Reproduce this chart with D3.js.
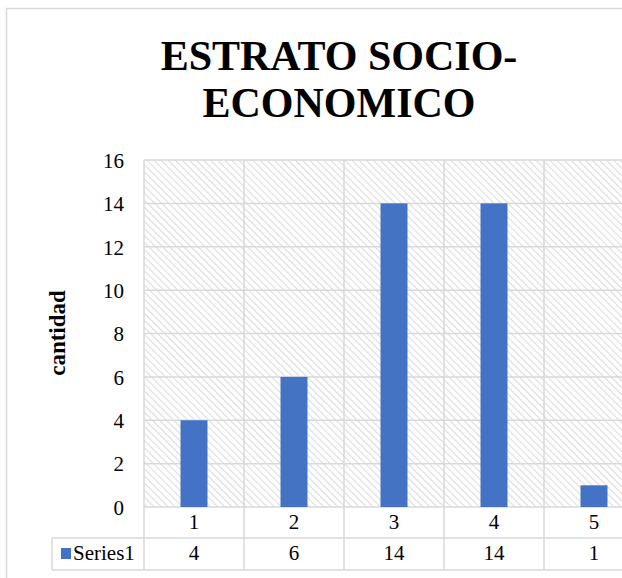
<!DOCTYPE html>
<html>
<head>
<meta charset="utf-8">
<script src="https://cdn.jsdelivr.net/npm/d3@7"></script>
</head>
<body style="margin:0">
<script>
// data
var categories = ["1", "2", "3", "4", "5"];
var values = [4, 6, 14, 14, 1];
var seriesName = "Series1";
var yTicks = [0, 2, 4, 6, 8, 10, 12, 14, 16];
var titleLines = ["ESTRATO SOCIO-", "ECONOMICO"];

function serif(sel) {
  return sel.attr("font-family", "Liberation Serif").style("font-family", "'Liberation Serif'");
}

var svg = d3.select("body").append("svg").attr("width", 622).attr("height", 578);

var defs = svg.append("defs");
var pat = defs.append("pattern")
    .attr("id", "hatch")
    .attr("patternUnits", "userSpaceOnUse")
    .attr("width", 5).attr("height", 5)
    .attr("patternTransform", "rotate(-45)");
pat.append("rect").attr("width", 5).attr("height", 5).attr("fill", "#fff");
pat.append("line").attr("x1", 0).attr("y1", 0).attr("x2", 0).attr("y2", 5)
    .attr("stroke", "#dcdcdc").attr("stroke-width", 2.2);

// chart border
svg.append("rect")
    .attr("x", 6.5).attr("y", 8.5).attr("width", 700).attr("height", 700)
    .attr("fill", "#fff").attr("stroke", "#d9d9d9").attr("stroke-width", 1.5);

// title
svg.selectAll(".title").data(titleLines).enter().append("text")
    .attr("class", "title")
    .attr("x", 339).attr("y", function(d, i) { return 70 + i * 47; })
    .attr("text-anchor", "middle")
    .attr("font-size", 42).attr("font-weight", "bold")
    .call(serif)
    .text(function(d) { return d; });

var x = d3.scaleBand().domain(categories).range([144, 644]).padding(0);
var y = d3.scaleLinear().domain([0, 16]).range([507, 160]);

var plot = svg.append("g");

// hatched plot background
plot.append("rect")
    .attr("x", 144).attr("y", y(16)).attr("width", 500).attr("height", y(0) - y(16))
    .attr("fill", "url(#hatch)");

// horizontal gridlines
plot.selectAll(".hgrid").data(yTicks).enter().append("line")
    .attr("class", "hgrid")
    .attr("x1", 144).attr("x2", 644)
    .attr("y1", function(d) { return y(d); }).attr("y2", function(d) { return y(d); })
    .attr("stroke", "#d9d9d9").attr("stroke-width", 1.5);

// data table rows
var rowTop = 507, rowMid = 538, rowBot = 570, tableLeft = 52;
var grid = svg.append("g").attr("stroke", "#d9d9d9").attr("stroke-width", 1.5);
grid.append("line").attr("x1", tableLeft).attr("x2", 644).attr("y1", rowMid).attr("y2", rowMid);
grid.append("line").attr("x1", tableLeft).attr("x2", 644).attr("y1", rowBot).attr("y2", rowBot);
grid.append("line").attr("x1", tableLeft).attr("x2", tableLeft).attr("y1", rowMid).attr("y2", rowBot);

// vertical lines at category boundaries
var bounds = categories.map(function(c) { return x(c); }).concat([x(categories[4]) + x.bandwidth()]);
grid.selectAll(".vgrid").data(bounds).enter().append("line")
    .attr("x1", function(d) { return d; }).attr("x2", function(d) { return d; })
    .attr("y1", y(16)).attr("y2", rowBot);

// bars
var barW = 27;
plot.selectAll(".bar").data(values).enter().append("rect")
    .attr("class", "bar")
    .attr("x", function(d, i) { return x(categories[i]) + x.bandwidth() / 2 - barW / 2; })
    .attr("y", function(d) { return y(d); })
    .attr("width", barW)
    .attr("height", function(d) { return y(0) - y(d); })
    .attr("fill", "#4472c4");

// y axis
var yAxis = svg.append("g")
    .attr("transform", "translate(124,0)")
    .call(d3.axisLeft(y).tickValues(yTicks).tickSize(0).tickPadding(0));
yAxis.select(".domain").remove();
yAxis.call(serif).attr("font-size", 21);
yAxis.selectAll("text")
    .attr("font-size", 21)
    .call(serif)
    .attr("dy", "0.35em");

// y axis title
svg.append("text")
    .attr("transform", "translate(65,333) rotate(-90)")
    .attr("text-anchor", "middle")
    .attr("font-size", 23).attr("font-weight", "bold")
    .call(serif)
    .text("cantidad");

// category labels
svg.selectAll(".cat").data(categories).enter().append("text")
    .attr("class", "cat")
    .attr("x", function(d) { return x(d) + x.bandwidth() / 2; })
    .attr("y", 529)
    .attr("text-anchor", "middle").attr("font-size", 21)
    .call(serif)
    .text(function(d) { return d; });

// value row
svg.selectAll(".val").data(values).enter().append("text")
    .attr("class", "val")
    .attr("x", function(d, i) { return x(categories[i]) + x.bandwidth() / 2; })
    .attr("y", 560)
    .attr("text-anchor", "middle").attr("font-size", 21)
    .call(serif)
    .text(function(d) { return d; });

// legend key in table
svg.append("rect")
    .attr("x", 61).attr("y", 548).attr("width", 10).attr("height", 11)
    .attr("fill", "#4472c4");
svg.append("text")
    .attr("x", 73).attr("y", 560)
    .attr("font-size", 21)
    .call(serif)
    .text(seriesName);
</script>
</body>
</html>
